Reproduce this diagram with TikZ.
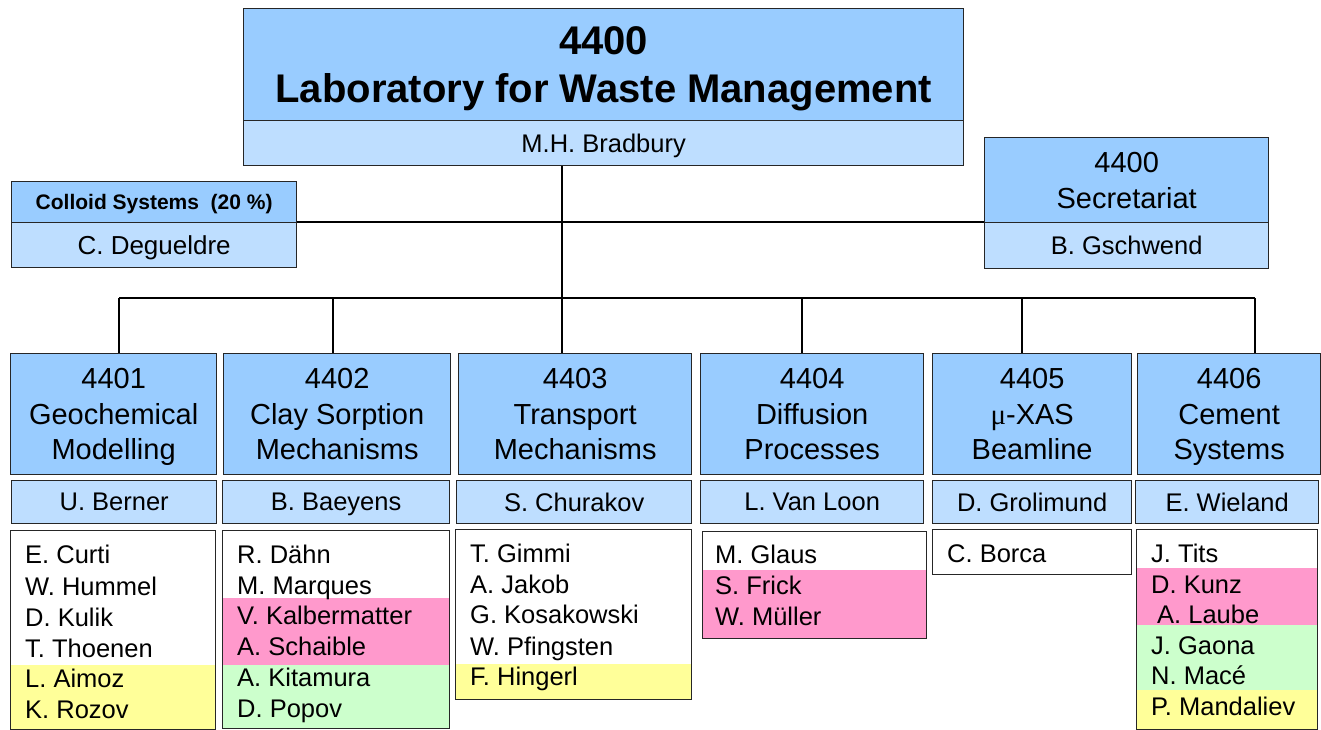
\documentclass[tikz,border=0pt]{standalone}
\usepackage{fontspec}
\setmainfont{Liberation Sans}
\newfontfamily\serifmu{Liberation Serif}
\definecolor{hblue}{RGB}{153,204,255}
\definecolor{nblue}{RGB}{190,222,255}
\definecolor{lpink}{RGB}{255,153,204}
\definecolor{lyellow}{RGB}{255,255,153}
\definecolor{lgreen}{RGB}{204,255,204}
\begin{document}
\begin{tikzpicture}[x=1pt,y=-1pt,
  bx/.style={draw=black!85, line width=1.3pt, anchor=north west, inner sep=0pt, align=center, text depth=0pt},
  head/.style={bx, fill=hblue, font=\fontsize{29}{35.5}\selectfont},
  nameband/.style={bx, fill=nblue, font=\fontsize{25.5}{30}\selectfont},
  listbox/.style={draw=black!85, line width=1.3pt, anchor=north west, inner sep=0pt},
  nm/.style={anchor=base west, inner sep=0pt, font=\fontsize{25.5}{30}\selectfont},
  conn/.style={line width=2.6pt, draw=black}
]
\useasboundingbox (0,0) rectangle (1321,729);
\begin{scope}
\clip (0,0) rectangle (1321,729);
% coordinates of connector junctions
\coordinate (hub) at (562,298);
\coordinate (b1) at (119,298);
\coordinate (b2) at (333,298);
\coordinate (b4) at (802,298);
\coordinate (b5) at (1022,298);
\coordinate (b6) at (1255,298);

% top box
\node[bx, fill=hblue, minimum width=720pt, minimum height=112pt, font=\bfseries\fontsize{40}{48}\selectfont] (top) at (243,8) {4400\\Laboratory for Waste Management};
\node[nameband, minimum width=720pt, minimum height=45pt] (topband) at (243,120) {M.H. Bradbury};

% colloid
\node[bx, fill=hblue, minimum width=285pt, minimum height=41pt, font=\bfseries\fontsize{21}{25}\selectfont] (col) at (11,181) {Colloid Systems\ \ (20 \%)};
\node[nameband, minimum width=285pt, minimum height=45pt, font=\fontsize{26}{30}\selectfont] (colband) at (11,222) {C. Degueldre};

% secretariat
\node[head, minimum width=284pt, minimum height=85pt] (sec) at (984,137) {4400\\Secretariat};
\node[nameband, minimum width=284pt, minimum height=46pt] (secband) at (984,222) {B. Gschwend};

% departments
\node[head, minimum width=206pt, minimum height=121pt] (d1) at (10,353) {4401\\Geochemical\\Modelling};
\node[head, minimum width=227pt, minimum height=121pt] (d2) at (223,353) {4402\\Clay Sorption\\Mechanisms};
\node[head, minimum width=233pt, minimum height=121pt] (d3) at (458,353) {4403\\Transport\\Mechanisms};
\node[head, minimum width=223pt, minimum height=121pt] (d4) at (700,353) {4404\\Diffusion\\Processes};
\node[head, minimum width=199pt, minimum height=121pt] (d5) at (932,353) {4405\\{\serifmu μ}-XAS\\Beamline};
\node[head, minimum width=183pt, minimum height=121pt] (d6) at (1137,353) {4406\\Cement\\Systems};

\node[nameband, minimum width=205pt, minimum height=43pt] (n1) at (11,480) {U. Berner};
\node[nameband, minimum width=227pt, minimum height=43pt] (n2) at (222,480) {B. Baeyens};
\node[nameband, minimum width=235pt, minimum height=43pt] (n3) at (456,480) {S. Churakov};
\node[nameband, minimum width=223pt, minimum height=43pt] (n4) at (700,480) {L. Van Loon};
\node[nameband, minimum width=199pt, minimum height=43pt] (n5) at (932,480) {D. Grolimund};
\node[nameband, minimum width=183pt, minimum height=43pt] (n6) at (1135,480) {E. Wieland};

% connectors
\draw[conn] (topband.south -| hub) -- (hub);
\draw[conn] (colband.north east) -- (secband.north west);
\draw[conn] (b1) -- (b6);
\draw[conn] (b1) -- (b1 |- d1.north);
\draw[conn] (b2) -- (b2 |- d2.north);
\draw[conn] (hub) -- (hub |- d3.north);
\draw[conn] (b4) -- (b4 |- d4.north);
\draw[conn] (b5) -- (b5 |- d5.north);
\draw[conn] (b6) -- (b6 |- d6.north);

% colored bands in lists
\fill[lyellow] (10,665) rectangle (215,729);
\fill[lpink] (222,598) rectangle (449,665);
\fill[lgreen] (222,665) rectangle (449,728);
\fill[lyellow] (455,664) rectangle (691,699);
\fill[lpink] (702,570) rectangle (926,638);
\fill[lpink] (1136,568) rectangle (1317,625);
\fill[lgreen] (1136,625) rectangle (1317,690);
\fill[lyellow] (1136,690) rectangle (1317,729);

% list boxes
\node[listbox, minimum width=205pt, minimum height=199pt] (l1) at (10,530) {};
\node[listbox, minimum width=227pt, minimum height=198pt] (l2) at (222,530) {};
\node[listbox, minimum width=236pt, minimum height=170pt] (l3) at (455,529) {};
\node[listbox, minimum width=224pt, minimum height=107pt] (l4) at (702,531) {};
\node[listbox, minimum width=199pt, minimum height=45pt] (l5) at (932,529) {};
\node[listbox, minimum width=181pt, minimum height=200pt] (l6) at (1136,529) {};

% names
\node[nm] (p11) at (25,563) {E. Curti};
\node[nm] (p12) at (25,595) {W. Hummel};
\node[nm] (p13) at (25,626) {D. Kulik};
\node[nm] (p14) at (25,657) {T. Thoenen};
\node[nm] (p15) at (25,687) {L. Aimoz};
\node[nm] (p16) at (25,718) {K. Rozov};

\node[nm] (p21) at (237,563) {R. Dähn};
\node[nm] (p22) at (237,594) {M. Marques};
\node[nm] (p23) at (237,624) {V. Kalbermatter};
\node[nm] (p24) at (237,655) {A. Schaible};
\node[nm] (p25) at (237,686) {A. Kitamura};
\node[nm] (p26) at (237,717) {D. Popov};

\node[nm] (p31) at (470,562) {T. Gimmi};
\node[nm] (p32) at (470,593) {A. Jakob};
\node[nm] (p33) at (470,623) {G. Kosakowski};
\node[nm] (p34) at (470,655) {W. Pfingsten};
\node[nm] (p35) at (470,685) {F. Hingerl};

\node[nm] (p41) at (715,563) {M. Glaus};
\node[nm] (p42) at (715,594) {S. Frick};
\node[nm] (p43) at (715,625) {W. Müller};

\node[nm] (p51) at (947,562) {C. Borca};

\node[nm] (p61) at (1151,562) {J. Tits};
\node[nm] (p62) at (1151,593) {D. Kunz};
\node[nm] (p63) at (1157,623) {A. Laube};
\node[nm] (p64) at (1151,654) {J. Gaona};
\node[nm] (p65) at (1151,684) {N. Macé};
\node[nm] (p66) at (1151,715) {P. Mandaliev};
\end{scope}
\end{tikzpicture}
\end{document}
